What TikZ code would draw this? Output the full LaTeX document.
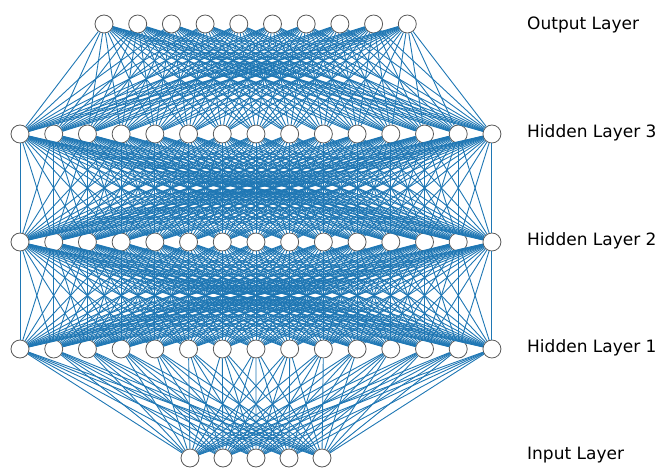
\documentclass[tikz,border=0pt]{standalone}
\usepackage{fontspec}
\setmainfont{DejaVu Sans}
\usepackage{tikz}
\definecolor{netblue}{RGB}{31,119,180}

\begin{document}
\begin{tikzpicture}[x=1pt,y=-1pt,
  neuron/.style={circle,draw=black!65,fill=white,minimum size=18pt,inner sep=0pt,line width=0.8pt},
  link/.style={netblue,line width=0.9pt},
  layerlabel/.style={anchor=base west,inner sep=0pt,font=\fontsize{17}{20}\selectfont}]

\useasboundingbox (0,0) rectangle (662,471);

% Neurons
\foreach \i in {1,...,5}  \node[neuron] (in\i)  at ({190+33*(\i-1)},458) {};   % input
\foreach \i in {1,...,15} \node[neuron] (ha\i)  at ({20+33.71*(\i-1)},349) {};  % hidden 1
\foreach \i in {1,...,15} \node[neuron] (hb\i)  at ({20+33.71*(\i-1)},242) {};  % hidden 2
\foreach \i in {1,...,15} \node[neuron] (hc\i)  at ({20+33.71*(\i-1)},134) {};  % hidden 3
\foreach \i in {1,...,10} \node[neuron] (out\i) at ({104+33.7*(\i-1)},24) {};   % output

% Connections
\foreach \i in {1,...,5}  \foreach \j in {1,...,15} \draw[link] (in\i) -- (ha\j);
\foreach \i in {1,...,15} \foreach \j in {1,...,15} \draw[link] (ha\i) -- (hb\j);
\foreach \i in {1,...,15} \foreach \j in {1,...,15} \draw[link] (hb\i) -- (hc\j);
\foreach \i in {1,...,15} \foreach \j in {1,...,10} \draw[link] (hc\i) -- (out\j);

% Labels
\node[layerlabel] (lout) at (527,29)  {Output Layer};
\node[layerlabel] (lhc)  at (527,137) {Hidden Layer 3};
\node[layerlabel] (lhb)  at (527,245) {Hidden Layer 2};
\node[layerlabel] (lha)  at (527,352) {Hidden Layer 1};
\node[layerlabel] (lin)  at (527,459) {Input Layer};

\end{tikzpicture}
\end{document}
